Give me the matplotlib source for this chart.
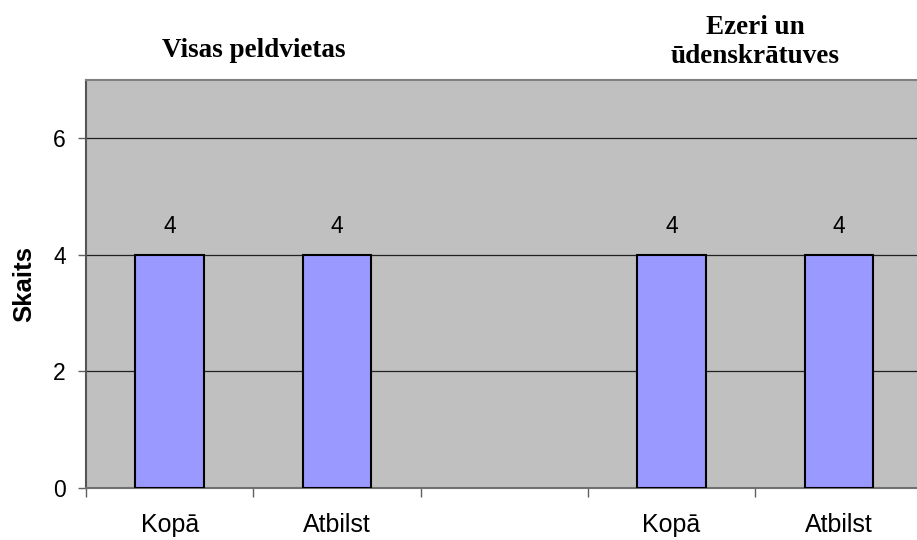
import numpy as np
import matplotlib
matplotlib.use('Agg')
import matplotlib.pyplot as plt
from matplotlib.ticker import FixedLocator

# data
categories = ['Kopā', 'Atbilst', '', 'Kopā', 'Atbilst']
values     = [4, 4, np.nan, 4, 4]
groups     = ['Visas peldvietas', 'Ezeri un\nūdenskrātuves']
group_pos  = [0.5, 3.5]
yticks     = [0, 2, 4, 6]

fig = plt.figure(figsize=(9.17, 5.40), dpi=100, facecolor='white')
ax = fig.add_axes([86/917, 52/540, 836.5/917, 408/540])
ax.set_facecolor('#C0C0C0')

x = np.arange(len(categories))
bars = ax.bar(x, values, width=0.41, color='#9999FF', edgecolor='black', linewidth=1.5, zorder=3)
labels = ['' if np.isnan(v) else f'{v:g}' for v in values]
ax.bar_label(bars, labels=labels, padding=12, fontsize=16.5, family='Liberation Sans')

ax.set_xlim(-0.5, len(categories) - 0.5)
ax.set_ylim(0, 7)
ax.set_yticks(yticks)
ax.yaxis.grid(True, color='#202020', linewidth=0.9, zorder=1)
ax.set_axisbelow(True)

ax.set_xticks(x)
ax.set_xticklabels(categories, fontsize=18, family='Liberation Sans')
ax.xaxis.set_minor_locator(FixedLocator(np.arange(-0.5, len(categories), 1.0)))
ax.tick_params(axis='x', which='major', length=0, pad=18)
ax.tick_params(axis='x', which='minor', length=6.5, color='#606060', width=1)
ax.tick_params(axis='y', length=6, color='#606060', width=1, pad=8.5, labelsize=16.5)
for t in ax.get_yticklabels():
    t.set_family('Liberation Sans')

ax.set_ylabel('Skaits', fontsize=18.5, fontweight='bold', family='Liberation Sans')
ax.yaxis.set_label_coords(-0.060, 0.5)

ax.spines['right'].set_visible(False)
ax.spines['left'].set_color('#555555')
ax.spines['left'].set_linewidth(1.5)
ax.spines['top'].set_color('#808080')
ax.spines['top'].set_linewidth(1.5)
ax.spines['bottom'].set_color('#707070')
ax.spines['bottom'].set_linewidth(1.5)

trans = ax.get_xaxis_transform()
ax.text(group_pos[0], 1.056, groups[0], transform=trans, ha='center', va='baseline',
        fontsize=19.5, fontweight='bold', family='Liberation Serif')
ax.text(group_pos[1], 1.027, groups[1], transform=trans, ha='center', va='bottom',
        fontsize=19.5, fontweight='bold', family='Liberation Serif', linespacing=1.2)

fig.savefig('out.png', dpi=100, facecolor='white')
